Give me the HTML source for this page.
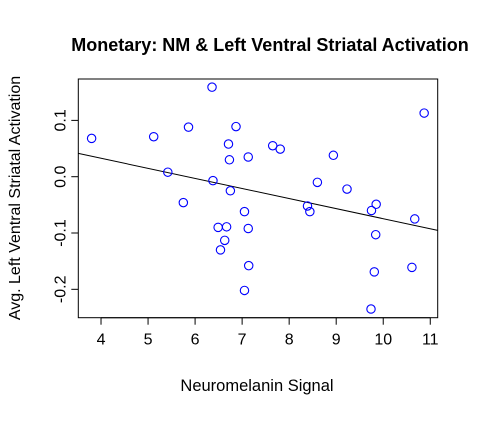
<!DOCTYPE html>
<html><head><meta charset="utf-8"><style>
body{margin:0;background:#fff}
svg text{font-family:"Liberation Sans",Arial,sans-serif}
</style></head><body>
<svg id="chart" width="478" height="416" xmlns="http://www.w3.org/2000/svg">
<rect width="478" height="416" fill="#fff"/>
<text x="270" y="51" text-anchor="middle" font-size="18" font-weight="bold">Monetary: NM &amp; Left Ventral Striatal Activation</text>
<text x="257" y="391" text-anchor="middle" font-size="16.5">Neuromelanin Signal</text>
<text transform="translate(20,198) rotate(-90)" text-anchor="middle" font-size="16">Avg. Left Ventral Striatal Activation</text>
<g id="axes"></g>
<g id="marks"></g>
</svg>
<script>
const xVals=[3.80,5.12,5.86,6.36,6.87,6.71,6.73,7.13,5.42,6.38,6.75,5.75,7.05,6.49,6.67,7.13,6.63,6.54,7.14,7.05,7.65,7.81,8.94,10.87,8.60,9.23,8.39,8.44,9.85,9.75,10.67,9.84,9.81,10.61,9.74];
const yVals=[0.068,0.071,0.088,0.159,0.089,0.058,0.030,0.035,0.008,-0.007,-0.025,-0.046,-0.062,-0.090,-0.089,-0.092,-0.113,-0.130,-0.158,-0.202,0.055,0.049,0.038,0.113,-0.010,-0.022,-0.052,-0.062,-0.049,-0.060,-0.075,-0.103,-0.169,-0.161,-0.235];
const xTicks=[4,5,6,7,8,9,10,11];
const yTicks=[0.1,0.0,-0.1,-0.2];
const yTickLabels=["0.1","0.0","-0.1","-0.2"];
const fitIntercept=0.1043;
const fitSlope=-0.01789;
const xMin=3.517,xMax=11.158,yMin=-0.2504,yMax=0.1735;
const L=78.3,R=437.7,T=79,B=317.7;
const sx=v=>L+(v-xMin)/(xMax-xMin)*(R-L);
const sy=v=>B-(v-yMin)/(yMax-yMin)*(B-T);
const NS="http://www.w3.org/2000/svg";
const axes=document.getElementById('axes'),marks=document.getElementById('marks');
function mk(tag,attrs,parent){const e=document.createElementNS(NS,tag);for(const k in attrs)e.setAttribute(k,attrs[k]);parent.appendChild(e);return e;}
const box=mk('rect',{x:L,y:T,width:R-L,height:B-T,fill:'none',stroke:'#000','stroke-width':1},axes);


mk('line',{x1:sx(4),x2:sx(11),y1:B,y2:B,stroke:'#000'},axes);
xTicks.forEach(t=>{
  const l=mk('line',{x1:sx(t),x2:sx(t),y1:B,y2:B+7,stroke:'#000'},axes);
  
  
  const tx=mk('text',{x:sx(t),y:B+27,'text-anchor':'middle','font-size':16},axes);
  tx.textContent=t;
  
  
});
yTicks.forEach((t,i)=>{
  const l=mk('line',{x1:L-7,x2:L,y1:sy(t),y2:sy(t),stroke:'#000'},axes);
  
  
  const tx=mk('text',{transform:`translate(${L-13},${sy(t)}) rotate(-90)`,'text-anchor':'middle','font-size':16},axes);
  tx.textContent=yTickLabels[i];
  
  
});
const fl=mk('line',{x1:L,x2:R,y1:sy(fitIntercept+fitSlope*xMin),y2:sy(fitIntercept+fitSlope*xMax),stroke:'#000','stroke-width':1},marks);


xVals.forEach((x,i)=>{
  const c=mk('circle',{cx:sx(x),cy:sy(yVals[i]),r:4.2,fill:'none',stroke:'#0000ff','stroke-width':1.1},marks);
  
  
});
</script>
</body></html>
